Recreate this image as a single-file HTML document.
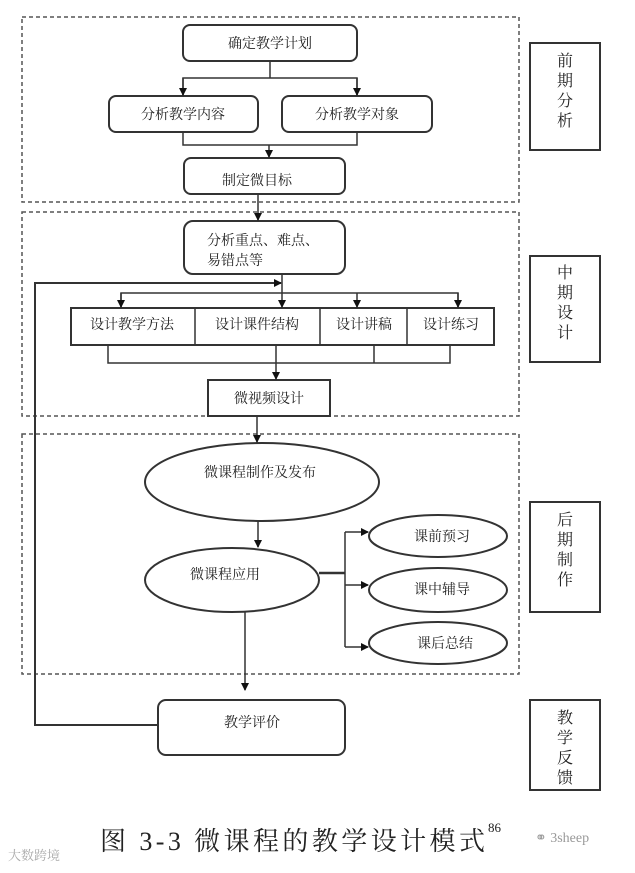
<!DOCTYPE html>
<html><head><meta charset="utf-8"><style>
html,body{margin:0;padding:0;background:#fff;}
svg text{font-family:"Liberation Serif","Noto Serif CJK SC",serif;fill:#222;}
</style></head><body>
<svg width="635" height="868" viewBox="0 0 635 868" xmlns="http://www.w3.org/2000/svg">
<defs><marker id="a" markerWidth="8" markerHeight="8" refX="7" refY="4" orient="auto" markerUnits="userSpaceOnUse"><path d="M0,0 L8,4 L0,8 z" fill="#111"/></marker></defs>
<g fill="none" stroke="#555" stroke-width="1.5" stroke-dasharray="4,3">
<rect x="22" y="17" width="497" height="185"/>
<rect x="22" y="212" width="497" height="204"/>
<rect x="22" y="434" width="497" height="240"/>
</g>
<g fill="#fff" stroke="#333" stroke-width="2">
<rect x="183" y="25" width="174" height="36" rx="7"/>
<rect x="109" y="96" width="149" height="36" rx="7"/>
<rect x="282" y="96" width="150" height="36" rx="7"/>
<rect x="184" y="158" width="161" height="36" rx="7"/>
<rect x="184" y="221" width="161" height="53" rx="9"/>
<rect x="71" y="308" width="423" height="37"/>
<rect x="208" y="380" width="122" height="36"/>
<ellipse cx="262" cy="482" rx="117" ry="39"/>
<ellipse cx="232" cy="580" rx="87" ry="32"/>
<ellipse cx="438" cy="536" rx="69" ry="21"/>
<ellipse cx="438" cy="590" rx="69" ry="22"/>
<ellipse cx="438" cy="643" rx="69" ry="21"/>
<rect x="158" y="700" width="187" height="55" rx="8"/>
<rect x="530" y="43" width="70" height="107"/>
<rect x="530" y="256" width="70" height="106"/>
<rect x="530" y="502" width="70" height="110"/>
<rect x="530" y="700" width="70" height="90"/>
</g>
<g stroke="#333" stroke-width="1.5" fill="none">
<line x1="195" y1="308" x2="195" y2="345"/><line x1="320" y1="308" x2="320" y2="345"/><line x1="407" y1="308" x2="407" y2="345"/>
<line x1="270" y1="61" x2="270" y2="78"/>
<polyline points="183,95 183,78 357,78 357,95"/>
<line x1="183" y1="78" x2="183" y2="95" marker-end="url(#a)"/>
<line x1="357" y1="78" x2="357" y2="95" marker-end="url(#a)"/>
<polyline points="183,132 183,145 357,145 357,132"/>
<line x1="269" y1="145" x2="269" y2="157" marker-end="url(#a)"/>
<line x1="258" y1="194" x2="258" y2="220" marker-end="url(#a)"/>
<line x1="282" y1="274" x2="282" y2="307" marker-end="url(#a)"/>
<polyline points="121,307 121,293 458,293 458,307"/>
<line x1="121" y1="293" x2="121" y2="307" marker-end="url(#a)"/>
<line x1="357" y1="293" x2="357" y2="307" marker-end="url(#a)"/>
<line x1="458" y1="293" x2="458" y2="307" marker-end="url(#a)"/>
<polyline points="108,345 108,363 450,363 450,345"/>
<line x1="374" y1="345" x2="374" y2="363"/>
<line x1="276" y1="345" x2="276" y2="379" marker-end="url(#a)"/>
<line x1="257" y1="416" x2="257" y2="442" marker-end="url(#a)"/>
<line x1="258" y1="521" x2="258" y2="547" marker-end="url(#a)"/>
<line x1="319" y1="573" x2="345" y2="573" stroke-width="2.5"/>
<line x1="345" y1="532" x2="345" y2="647"/>
<line x1="345" y1="532" x2="368" y2="532" marker-end="url(#a)"/>
<line x1="345" y1="585" x2="368" y2="585" marker-end="url(#a)"/>
<line x1="345" y1="647" x2="368" y2="647" marker-end="url(#a)"/>
<line x1="245" y1="612" x2="245" y2="690" marker-end="url(#a)"/>
<polyline points="158,725 35,725 35,283 281,283" stroke-width="2"/>
<line x1="260" y1="283" x2="281" y2="283" stroke-width="2" marker-end="url(#a)"/>
</g>
<g font-size="14" text-anchor="middle">
<text x="270" y="48">确定教学计划</text>
<text x="183" y="119">分析教学内容</text>
<text x="357" y="119">分析教学对象</text>
<text x="257" y="185">制定微目标</text>
<text x="207" y="245" text-anchor="start">分析重点、难点、</text>
<text x="207" y="265" text-anchor="start">易错点等</text>
<text x="132" y="329">设计教学方法</text>
<text x="257" y="329">设计课件结构</text>
<text x="364" y="329">设计讲稿</text>
<text x="451" y="329">设计练习</text>
<text x="269" y="403">微视频设计</text>
<text x="260" y="477">微课程制作及发布</text>
<text x="225" y="579">微课程应用</text>
<text x="442" y="541">课前预习</text>
<text x="442" y="594">课中辅导</text>
<text x="445" y="648">课后总结</text>
<text x="252" y="727">教学评价</text>
</g>
<g font-size="16" text-anchor="middle">
<text x="565" y="66">前</text><text x="565" y="86">期</text><text x="565" y="106">分</text><text x="565" y="126">析</text>
<text x="565" y="278">中</text><text x="565" y="298">期</text><text x="565" y="318">设</text><text x="565" y="338">计</text>
<text x="565" y="525">后</text><text x="565" y="545">期</text><text x="565" y="565">制</text><text x="565" y="585">作</text>
<text x="565" y="723">教</text><text x="565" y="743">学</text><text x="565" y="763">反</text><text x="565" y="783">馈</text>
</g>
<text x="100" y="850" font-size="26" textLength="385" lengthAdjust="spacing">图 3-3 微课程的教学设计模式</text>
<text x="488" y="832" font-size="13">86</text>
<text x="535" y="842" font-size="14" style="fill:#999">⚭ 3sheep</text>
<text x="8" y="860" font-size="13" style="fill:#aaa">大数跨境</text>
</svg>
</body></html>
